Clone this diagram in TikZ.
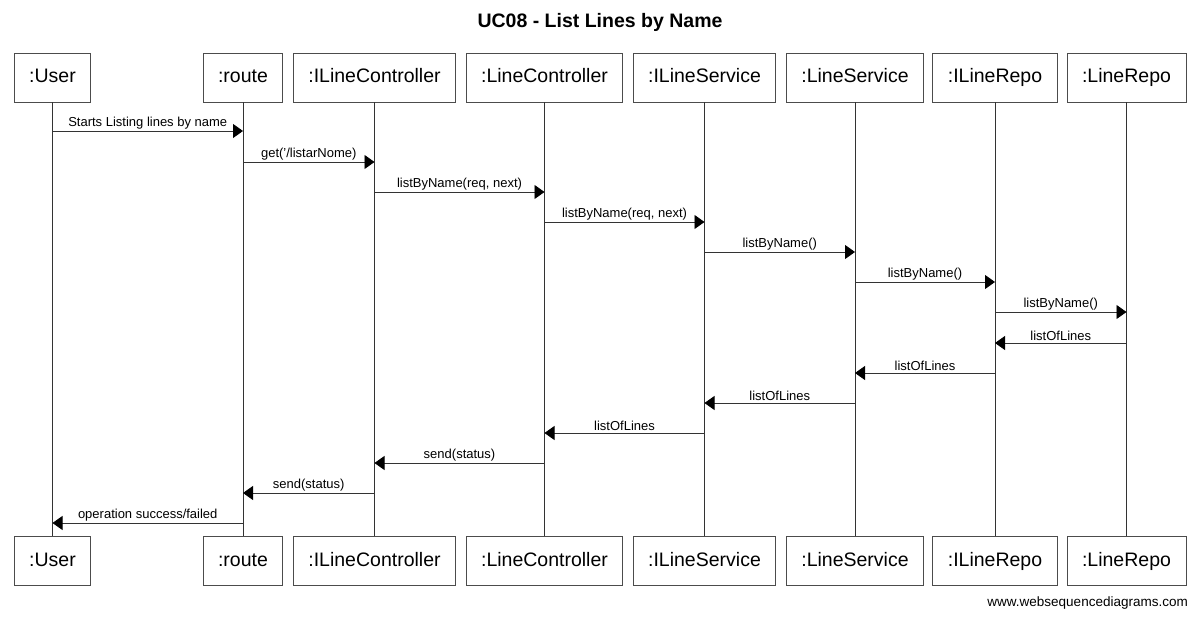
\documentclass[tikz,border=0pt]{standalone}
\usepackage{fontspec}
\setmainfont{Liberation Sans}
\usetikzlibrary{arrows.meta}

\tikzset{
  actor/.style={draw=black!70, line width=0.9pt, fill=white, inner xsep=15pt, inner ysep=0pt, text height=14pt, text depth=4pt, minimum height=49pt, font=\fontsize{19.5}{22}\selectfont},
  lifeline/.style={draw=black!80, line width=0.8pt},
  msg/.style={draw=black!80, line width=0.8pt, -{Triangle[length=10pt,width=14pt,color=black]}},
  lbl/.style={above, inner sep=1.5pt, font=\fontsize{13}{15}\selectfont}
}

\begin{document}
\begin{tikzpicture}[x=1pt, y=-1pt]
\useasboundingbox (0,0) rectangle (1200,620);
\node[font=\bfseries\fontsize{19.5}{22}\selectfont] (title) at (600,22) {UC08 - List Lines by Name};

% participants, top row
\node[actor] (userT) at (52.5,77.5) {:User};
\node[actor] (routeT) at (243,77.5) {:route};
\node[actor] (ilcT) at (374.5,77.5) {:ILineController};
\node[actor] (lcT) at (544.5,77.5) {:LineController};
\node[actor] (ilsT) at (704.5,77.5) {:ILineService};
\node[actor] (lsT) at (855,77.5) {:LineService};
\node[actor] (ilrT) at (995,77.5) {:ILineRepo};
\node[actor] (lrT) at (1126.5,77.5) {:LineRepo};

% participants, bottom row
\node[actor] (userB) at (52.5,561) {:User};
\node[actor] (routeB) at (243,561) {:route};
\node[actor] (ilcB) at (374.5,561) {:ILineController};
\node[actor] (lcB) at (544.5,561) {:LineController};
\node[actor] (ilsB) at (704.5,561) {:ILineService};
\node[actor] (lsB) at (855,561) {:LineService};
\node[actor] (ilrB) at (995,561) {:ILineRepo};
\node[actor] (lrB) at (1126.5,561) {:LineRepo};

% lifelines
\draw[lifeline] (userT) -- (userB);
\draw[lifeline] (routeT) -- (routeB);
\draw[lifeline] (ilcT) -- (ilcB);
\draw[lifeline] (lcT) -- (lcB);
\draw[lifeline] (ilsT) -- (ilsB);
\draw[lifeline] (lsT) -- (lsB);
\draw[lifeline] (ilrT) -- (ilrB);
\draw[lifeline] (lrT) -- (lrB);

% calls
\draw[msg] (userT |- 0,131) -- node[lbl]{Starts Listing lines by name} (routeT |- 0,131);
\draw[msg] (routeT |- 0,162) -- node[lbl]{get('/listarNome)} (ilcT |- 0,162);
\draw[msg] (ilcT |- 0,192) -- node[lbl]{listByName(req, next)} (lcT |- 0,192);
\draw[msg] (lcT |- 0,222) -- node[lbl]{listByName(req, next)} (ilsT |- 0,222);
\draw[msg] (ilsT |- 0,252) -- node[lbl]{listByName()} (lsT |- 0,252);
\draw[msg] (lsT |- 0,282) -- node[lbl]{listByName()} (ilrT |- 0,282);
\draw[msg] (ilrT |- 0,312) -- node[lbl]{listByName()} (lrT |- 0,312);

% returns
\draw[msg] (lrT |- 0,343) -- node[lbl]{listOfLines} (ilrT |- 0,343);
\draw[msg] (ilrT |- 0,373) -- node[lbl]{listOfLines} (lsT |- 0,373);
\draw[msg] (lsT |- 0,403) -- node[lbl]{listOfLines} (ilsT |- 0,403);
\draw[msg] (ilsT |- 0,433) -- node[lbl]{listOfLines} (lcT |- 0,433);
\draw[msg] (lcT |- 0,463) -- node[lbl]{send(status)} (ilcT |- 0,463);
\draw[msg] (ilcT |- 0,493) -- node[lbl]{send(status)} (routeT |- 0,493);
\draw[msg] (routeT |- 0,523) -- node[lbl]{operation success/failed} (userT |- 0,523);

\node[anchor=east, inner sep=0pt, font=\fontsize{13.5}{15}\selectfont] (credit) at (1188,603) {www.websequencediagrams.com};
\end{tikzpicture}
\end{document}
